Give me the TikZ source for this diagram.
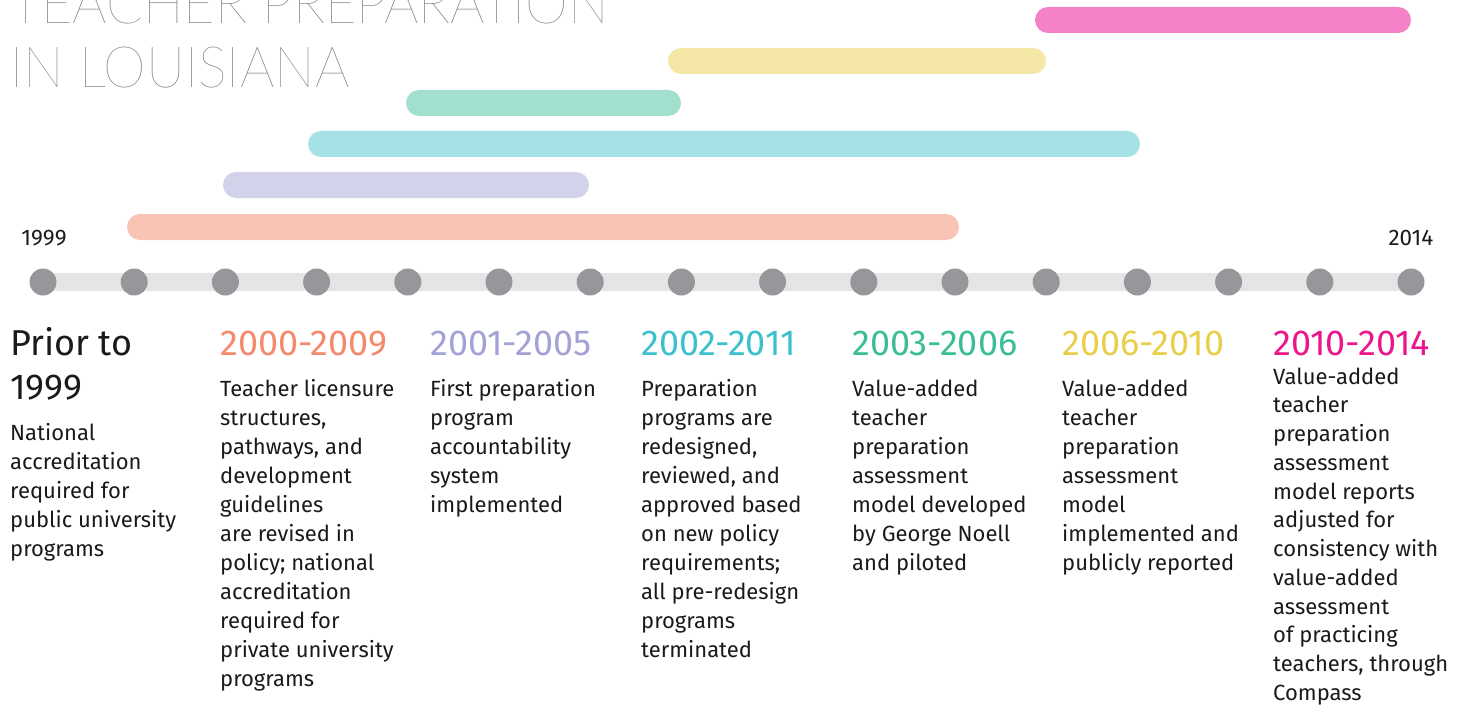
\documentclass[tikz,border=0pt]{standalone}
\usepackage{fontspec}
\setmainfont{Fira Sans}
\newfontfamily\titlefont{Lato Thin}
\definecolor{salbar}{HTML}{F9C4B6}
\definecolor{lavbar}{HTML}{D2D2EA}
\definecolor{cyabar}{HTML}{A6E1E6}
\definecolor{minbar}{HTML}{A3DFCF}
\definecolor{yelbar}{HTML}{F5E8A7}
\definecolor{pinbar}{HTML}{F581C6}
\definecolor{saltx}{HTML}{F4896B}
\definecolor{lavtx}{HTML}{A2A2D4}
\definecolor{cyatx}{HTML}{3CC1CC}
\definecolor{mintx}{HTML}{3BBE98}
\definecolor{yeltx}{HTML}{E8CF4B}
\definecolor{pintx}{HTML}{EC168C}
\definecolor{dotgray}{HTML}{97979B}
\definecolor{linegray}{HTML}{E5E5E5}
\definecolor{titlegray}{HTML}{6D6E71}
\definecolor{ink}{HTML}{1A1A1A}
\newcommand\bodycol[5]{%
  \foreach \t [count=\i] in {#5}
    \node[body] (#1-\i) at (#2, {#3+#4*(\i-1)}) {\t};}
\begin{document}
\begin{tikzpicture}[x=1pt,y=-1pt,
  bar/.style={rounded corners=13pt},
  dotnode/.style={circle,fill=dotgray,inner sep=0pt,minimum size=27pt},
  body/.style={anchor=base west,inner sep=0pt,text=ink,font=\fontsize{22}{29}\selectfont},
  head/.style={anchor=base west,inner sep=0pt,font=\fontsize{36}{40}\selectfont},
  yearlbl/.style={inner sep=0pt,text=ink,font=\fontsize{22.5}{26}\selectfont},
  titletext/.style={anchor=base west,inner sep=0pt,text=titlegray,xscale=0.95,font=\titlefont\fontsize{57}{64}\selectfont}]
\useasboundingbox (0,0) rectangle (1467,706);
% title
\node[titletext] (t1) at (10,24) {TEACHER PREPARATION};
\node[titletext] (t2) at (10,88) {IN LOUISIANA};
% period bars
\fill[bar,pinbar] (1035,7) rectangle (1411,33);
\fill[bar,yelbar] (668,48) rectangle (1046,74);
\fill[bar,minbar] (406,90) rectangle (681,116);
\fill[bar,cyabar] (308,131) rectangle (1140,157);
\fill[bar,lavbar] (223,172) rectangle (589,198);
\fill[bar,salbar] (127,214) rectangle (959,240);
% timeline
\coordinate (lstart) at (43,282);
\coordinate (lend) at (1411,282);
\draw[linegray,line width=18pt] (lstart) -- (lend);
\foreach \i in {0,...,15}
  \node[dotnode] (d\i) at ({43+91.2*\i},282) {};
\node[yearlbl] (y1) at (44,238) {1999};
\node[yearlbl] (y2) at (1411,238) {2014};
% headers
\node[head,text=ink] (h1) at (10,355) {Prior to};
\node[head,text=ink] (h1b) at (10,399) {1999};
\node[head,text=saltx] (h2) at (220,355) {2000-2009};
\node[head,text=lavtx] (h3) at (430,355) {2001-2005};
\node[head,text=cyatx] (h4) at (641,355) {2002-2011};
\node[head,text=mintx] (h5) at (852,355) {2003-2006};
\node[head,text=yeltx] (h6) at (1062,355) {2006-2010};
\node[head,text=pintx] (h7) at (1273,355) {2010-2014};
% bodies
\bodycol{c1}{10}{440}{29}{National, accreditation, required for, public university, programs}
\bodycol{c2}{220}{396}{29}{Teacher licensure, {structures,}, {pathways, and}, development, guidelines, are revised in, policy; national, accreditation, required for, private university, programs}
\bodycol{c3}{430}{396}{29}{First preparation, program, accountability, system, implemented}
\bodycol{c4}{641}{396}{29}{Preparation, programs are, {redesigned,}, {reviewed, and}, approved based, on new policy, requirements;, all pre-redesign, programs, terminated}
\bodycol{c5}{852}{396}{29}{Value-added, teacher, preparation, assessment, model developed, by George Noell, and piloted}
\bodycol{c6}{1062}{396}{29}{Value-added, teacher, preparation, assessment, model, implemented and, publicly reported}
\bodycol{c7}{1273}{384}{28.75}{Value-added, teacher, preparation, assessment, model reports, adjusted for, consistency with, value-added, assessment, of practicing, {teachers, through}, Compass}
\end{tikzpicture}
\end{document}
